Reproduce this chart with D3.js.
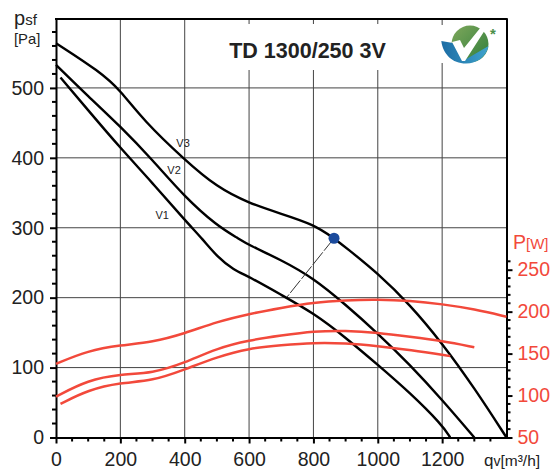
<!DOCTYPE html>
<html>
<head>
<meta charset="utf-8">
<script src="https://cdn.jsdelivr.net/npm/d3@7"></script>
<style>
  html, body { margin: 0; padding: 0; background: #fff; }
  text { font-family: "Liberation Sans", Arial, sans-serif; }
</style>
</head>
<body>
<svg id="chart"></svg>
<script>
const width = 553;
const height = 470;

// values: [qv, psf] and [qv, P]
const v1 = [[14,515],[100,468],[200,414],[300,364],[400,311],[457,283],[500,259],[551,240],[600,230],[700,204],[800,178],[900,143],[1000,104],[1100,64],[1200,18],[1225,0]];
const v2 = [[0,533],[100,488],[200,445],[300,397],[400,344],[500,303],[566,285],[600,275],[700,254],[800,228],[900,190],[1000,149],[1100,104],[1200,54],[1300,0]];
const v3 = [[0,564],[137,523],[199,497],[271,454],[400,397],[500,358],[600,335],[700,320],[800,305],[864,285],[900,272],[1000,235],[1100,190],[1200,135],[1300,71],[1400,0]];
const p1 = [[14,90],[100,106.7],[200,115.4],[300,117.4],[400,131],[500,146],[600,156.4],[700,160],[800,163],[900,162.4],[1000,159],[1100,154.4],[1225,147]];
const p2 = [[0,98.7],[100,118.6],[200,125.4],[300,126.6],[400,139],[500,156.4],[600,166],[700,171.5],[800,176.7],[900,177.5],[1000,175],[1100,170],[1200,165],[1300,157.6]];
const p3 = [[0,137.7],[100,153.6],[200,160],[300,163.6],[400,174],[500,188],[600,197.4],[700,204.5],[800,211],[900,213.7],[1000,214.5],[1100,213],[1200,209],[1300,203],[1400,194]];
const dutyPoint = [864, 285];
const dutyLine = [[864,285],[718,201]];
const curveLabels = [["V1",330,312],["V2",367,377],["V3",395,415]];

const xTicks = [0,200,400,600,800,1000,1200];
const xMinor = d3.range(0,1401,50);
const yTicks = [0,100,200,300,400,500];
const yMinor = d3.range(0,581,20);
const pTicks = [50,100,150,200,250];
const pMinor = d3.range(50,261,10);

const red = "#f2493b";
const ink = "#222";

const x = d3.scaleLinear().domain([0,1400]).range([56,506.5]);
const y = d3.scaleLinear().domain([0,600]).range([437.5,18]);
const yP = d3.scaleLinear().domain([50,550]).range([437.5,18]);

const svg = d3.select("#chart").attr("width", width).attr("height", height)
  .style("display", "block");

// grid
const grid = svg.append("g").attr("stroke", "#444").attr("stroke-width", 1);
grid.selectAll(".gx").data(xTicks.slice(1)).join("line").attr("class", "gx")
  .attr("x1", d => x(d)).attr("x2", d => x(d)).attr("y1", y(600)).attr("y2", y(0));
grid.selectAll(".gy").data(yTicks.slice(1)).join("line").attr("class", "gy")
  .attr("x1", x(0)).attr("x2", x(1400)).attr("y1", d => y(d)).attr("y2", d => y(d));

// white patches behind title and logo cut the grid
svg.append("rect").attr("x", 190).attr("y", 24).attr("width", 200).attr("height", 46).attr("fill", "#fff");
svg.append("rect").attr("x", 430).attr("y", 25).attr("width", 70).attr("height", 38).attr("fill", "#fff");

// axes
const xAxis = svg.append("g").attr("transform", `translate(0,${y(0)})`)
  .call(d3.axisBottom(x).tickValues(xTicks).tickFormat(d3.format("d")).tickSize(6).tickPadding(9).tickSizeOuter(0));
const yAxis = svg.append("g").attr("transform", `translate(${x(0)},0)`)
  .call(d3.axisLeft(y).tickValues(yTicks).tickSize(6).tickPadding(6).tickSizeOuter(0));
const pAxis = svg.append("g").attr("transform", `translate(${x(1400)},0)`)
  .call(d3.axisRight(yP).tickValues(pTicks).tickSize(6).tickPadding(5).tickSizeOuter(0));

[xAxis, yAxis].forEach(g => {
  g.selectAll("text").attr("fill", ink).style("font-size", "19.5px");
  g.selectAll("line").attr("stroke", "#000").attr("stroke-width", 2);
  g.select(".domain").attr("stroke", "#000").attr("stroke-width", 2);
});
pAxis.selectAll("text").attr("fill", red).style("font-size", "19.5px");
pAxis.selectAll("line").attr("stroke", "#000").attr("stroke-width", 2);
pAxis.select(".domain").attr("stroke", "#000").attr("stroke-width", 2);

// minor ticks
svg.append("g").selectAll("line").data(xMinor.filter(d => d % 200)).join("line")
  .attr("x1", d => x(d)).attr("x2", d => x(d)).attr("y1", y(0)).attr("y2", y(0) + 4)
  .attr("stroke", "#000").attr("stroke-width", 2);
svg.append("g").selectAll("line").data(yMinor.filter(d => d % 100)).join("line")
  .attr("x1", x(0) - 4).attr("x2", x(0)).attr("y1", d => y(d)).attr("y2", d => y(d))
  .attr("stroke", "#000").attr("stroke-width", 2);
svg.append("g").selectAll("line").data(pMinor.filter(d => d % 50)).join("line")
  .attr("x1", x(1400)).attr("x2", x(1400) + 4).attr("y1", d => yP(d)).attr("y2", d => yP(d))
  .attr("stroke", "#000").attr("stroke-width", 2);

// top border
svg.append("line").attr("x1", x(0) - 1).attr("x2", x(1400) + 1).attr("y1", 19).attr("y2", 19)
  .attr("stroke", "#000").attr("stroke-width", 2);

// curves
const line = d3.line().x(d => x(d[0])).y(d => y(d[1])).curve(d3.curveBasis);
const lineP = d3.line().x(d => x(d[0])).y(d => yP(d[1])).curve(d3.curveBasis);

svg.append("g").attr("fill", "none").attr("stroke", "#000").attr("stroke-width", 2.4)
  .selectAll("path").data([v1, v2, v3]).join("path").attr("d", line);
svg.append("g").attr("fill", "none").attr("stroke", red).attr("stroke-width", 2.5)
  .selectAll("path").data([p1, p2, p3]).join("path").attr("d", lineP);

svg.append("path").attr("d", d3.line().x(d => x(d[0])).y(d => y(d[1]))(dutyLine))
  .attr("fill", "none").attr("stroke", "#333").attr("stroke-width", 1).attr("stroke-dasharray", "16 2");
svg.append("circle").attr("cx", x(dutyPoint[0])).attr("cy", y(dutyPoint[1])).attr("r", 5.5).attr("fill", "#1b4a9c");

svg.append("g").selectAll("text").data(curveLabels).join("text")
  .attr("x", d => x(d[1])).attr("y", d => y(d[2]))
  .attr("text-anchor", "middle").attr("fill", ink).style("font-size", "11px")
  .text(d => d[0]);

// title
svg.append("text").attr("x", 307.5).attr("y", 58).attr("text-anchor", "middle")
  .attr("fill", ink).style("font-size", "21.5px").style("font-weight", "bold")
  .text("TD 1300/250 3V");

// axis titles
const psf = svg.append("text").attr("x", 14).attr("y", 25).attr("fill", ink).style("font-size", "20px");
psf.append("tspan").text("p");
psf.append("tspan").style("font-size", "15px").text("sf");
svg.append("text").attr("x", 14).attr("y", 44).attr("fill", ink).style("font-size", "14.8px").text("[Pa]");

const pw = svg.append("text").attr("x", 513).attr("y", 249).attr("fill", red).style("font-size", "19.5px");
pw.append("tspan").text("P");
pw.append("tspan").style("font-size", "15px").text("[W]");

const qv = svg.append("text").attr("x", 484).attr("y", 466).attr("fill", ink).style("font-size", "17px");
qv.append("tspan").text("q");
qv.append("tspan").style("font-size", "14px").text("v");
qv.append("tspan").style("font-size", "15.5px").text("[m³/h]");

// logo
const defs = svg.append("defs");
const gGreen = defs.append("linearGradient").attr("id", "logoGreen").attr("x1", 0).attr("x2", 1).attr("y1", 0).attr("y2", 1);
gGreen.append("stop").attr("offset", 0).attr("stop-color", "#7fa85c");
gGreen.append("stop").attr("offset", 1).attr("stop-color", "#2f7d3a");
const gBlue = defs.append("linearGradient").attr("id", "logoBlue");
gBlue.append("stop").attr("offset", 0).attr("stop-color", "#1c6ca4");
gBlue.append("stop").attr("offset", 1).attr("stop-color", "#3fa3cc");

const logo = svg.append("g");
logo.append("circle").attr("cx", 470).attr("cy", 44).attr("r", 18.5).attr("fill", "url(#logoGreen)");
logo.append("path").attr("d", "M441.3,41 L453,43 L463,61 L488.5,46 C486,57 477,63.5 466,63.5 C452,63.5 443,54 441.3,41Z")
  .attr("fill", "url(#logoBlue)");
logo.append("path").attr("d", "M452,42 L460,40 L464,48 L481,27 L485,30 L465,61 L462,61Z").attr("fill", "#fff");
logo.append("text").attr("x", 493).attr("y", 39).attr("text-anchor", "middle")
  .attr("fill", "#4c8f4a").style("font-size", "15px").style("font-weight", "bold").text("*");
</script>
</body>
</html>
